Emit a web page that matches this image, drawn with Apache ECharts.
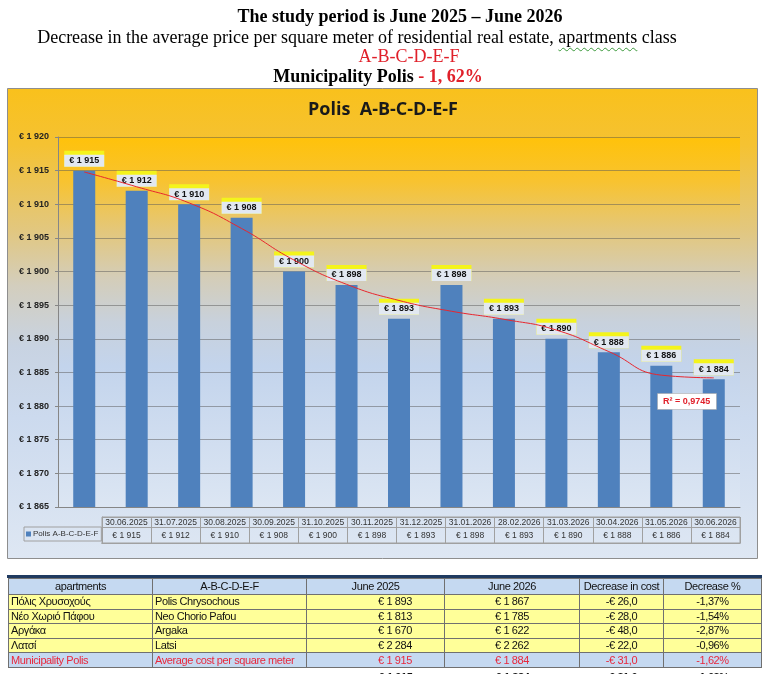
<!DOCTYPE html>
<html>
<head>
<meta charset="utf-8">
<script src="https://cdn.jsdelivr.net/npm/echarts@6/dist/echarts.min.js"></script>
<style>
  html,body{margin:0;padding:0;background:#fff;}
  #wrap{position:relative;width:766px;height:674px;overflow:hidden;}
  #chart{position:absolute;left:0;top:0;width:766px;height:674px;}
  .hl{position:absolute;white-space:nowrap;font-family:'Liberation Serif','Times New Roman',serif;font-size:18px;line-height:20px;transform:translateX(-50%);color:#000;}
  .b{font-weight:bold;}
  .red{color:#E0202A;}
  .wavy{text-decoration:underline wavy #3c9a3c;text-decoration-thickness:1px;text-underline-offset:4px;}
  #navy{position:absolute;left:7px;top:575px;width:755px;height:3px;background:#1F3A60;}
  #tbl{position:absolute;left:8px;top:578px;width:753px;border-collapse:collapse;table-layout:fixed;
       font-family:'Liberation Sans',Arial,sans-serif;font-size:11px;letter-spacing:-0.4px;color:#111;}
  #tbl td{border:1px solid #707070;padding:0 2px;white-space:nowrap;overflow:hidden;line-height:13px;}
  #tbl tr.hd td{background:#C5D9F1;text-align:center;height:15px;}
  #tbl tr.yl td{background:#FFFF99;height:13.6px;}
  #tbl tr.mu td{background:#C5D9F1;color:#E8283C;height:13.6px;}
  #tbl tr.tot td{border:none;font-weight:bold;background:#fff;height:14px;vertical-align:top;padding-top:3px;}
  #tbl td.r3{text-align:right;padding-right:32px;}
  #tbl td.r4{text-align:right;padding-right:50px;}
  #tbl td.c{text-align:center;}
</style>
</head>
<body>
<div id="wrap">
  <div id="chart"></div>
  <div class="hl b" style="left:400px;top:6px;">The study period is June 2025 – June 2026</div>
  <div class="hl" style="left:357px;top:27px;">Decrease in the average price per square meter of residential real estate, <span class="wavy">apartments</span> class</div>
  <div class="hl red" style="left:409px;top:46px;">A-B-C-D-E-F</div>
  <div class="hl b" style="left:378px;top:66px;">Municipality Polis <span class="red">- 1, 62%</span></div>
  <div id="navy"></div>
  <table id="tbl"></table>
</div>
<script>
// ---------- chart data ----------
const chartTitle = 'Polis  A-B-C-D-E-F';
const seriesName = 'Polis A-B-C-D-E-F';
const categories = ['30.06.2025','31.07.2025','30.08.2025','30.09.2025','31.10.2025','30.11.2025','31.12.2025','31.01.2026','28.02.2026','31.03.2026','30.04.2026','31.05.2026','30.06.2026'];
const prices = [1915,1912,1910,1908,1900,1898,1893,1898,1893,1890,1888,1886,1884];
// polynomial trend line
const trend = [1914.8,1912.6,1910.2,1906.4,1901.7,1898.1,1895.7,1894.1,1892.9,1891.3,1888.1,1884.6,1884.2];
const rSquaredText = 'R² = 0,9745';
const yMin = 1865, yMax = 1920, yStep = 5;

// ---------- table data ----------
const tableHeader = ['apartments','A-B-C-D-E-F','June 2025','June 2026','Decrease in cost','Decrease %'];
const placesGr = ['Πόλις Χρυσοχούς','Νέο Χωριό Πάφου','Αργάκα','Λατσί'];
const placesEn = ['Polis Chrysochous','Neo Chorio Pafou','Argaka','Latsi'];
const june2025 = [1893,1813,1670,2284];
const june2026 = [1867,1785,1622,2262];
const decCost = ['-€ 26,0','-€ 28,0','-€ 48,0','-€ 22,0'];
const decPct = ['-1,37%','-1,54%','-2,87%','-0,96%'];
const muniRow = ['Municipality Polis','Average cost per square meter',1915,1884,'-€ 31,0','-1,62%'];

function fmt(v){ const s = String(Math.round(v)); return s.length>3 ? s.slice(0,s.length-3)+' '+s.slice(-3) : s; }
function eur(v){ return '€ ' + fmt(v); }

// build table
(function(){
  const t = document.getElementById('tbl');
  const widths = [144,154,138,135,84,98];
  let h = '<colgroup>' + widths.map(w=>'<col style="width:'+w+'px">').join('') + '</colgroup>';
  h += '<tr class="hd">' + tableHeader.map(x=>'<td>'+x+'</td>').join('') + '</tr>';
  for (let i=0;i<placesGr.length;i++){
    h += '<tr class="yl"><td>'+placesGr[i]+'</td><td>'+placesEn[i]+'</td><td class="r3">'+eur(june2025[i])+'</td><td class="r4">'+eur(june2026[i])+'</td><td class="c">'+decCost[i]+'</td><td class="c">'+decPct[i]+'</td></tr>';
  }
  h += '<tr class="mu"><td>'+muniRow[0]+'</td><td>'+muniRow[1]+'</td><td class="r3">'+eur(muniRow[2])+'</td><td class="r4">'+eur(muniRow[3])+'</td><td class="c">'+muniRow[4]+'</td><td class="c">'+muniRow[5]+'</td></tr>';
  h += '<tr class="tot"><td></td><td></td><td class="r3">'+eur(muniRow[2])+'</td><td class="r4">'+eur(muniRow[3])+'</td><td class="c">'+muniRow[4]+'</td><td class="c">'+muniRow[5]+'</td></tr>';
  t.innerHTML = h;
})();

const chart = echarts.init(document.getElementById('chart'), null, {renderer:'canvas'});
const lin = (stops)=>({type:'linear',x:0,y:0,x2:0,y2:1,colorStops:stops.map(s=>({offset:s[0],color:s[1]}))});
const gridLine = '#A0A0A0';
const option = {
  animation:false,
  graphic:[{
    type:'rect', silent:true, z:-10,
    shape:{x:7.5,y:88.5,width:750,height:470},
    style:{fill:lin([[0,'#F9C11C'],[0.12,'#F5C232'],[0.3,'#E2C77E'],[0.42,'#D3CEBE'],[0.55,'#C8D3E2'],[0.7,'#CCDAEE'],[1,'#DEE7F3']]), stroke:'#8E8E8E', lineWidth:1}
  }],
  title:[
    {text:chartTitle, left:'center', top:101, padding:0,
     textStyle:{fontFamily:'Open Sans',fontSize:18,fontWeight:'bold',color:'#1a1a1a'}},
    {text:rSquaredText, left:657, top:393, padding:[4,6], backgroundColor:'#ffffff', borderColor:'#A0A0A0', borderWidth:0.5,
     textStyle:{fontFamily:'Liberation Sans',fontSize:9,fontWeight:'bold',color:'#E0202A'}}
  ],
  legend:{
    data:[seriesName], left:24, top:527, orient:'horizontal',
    icon:'rect', itemWidth:5, itemHeight:5, itemGap:0,
    padding:[3,3,3,2], borderColor:gridLine, borderWidth:1,
    textStyle:{fontFamily:'Liberation Sans',fontSize:8,color:'#333',padding:[0,0,0,-3]}
  },
  grid:[
    {left:58, top:137, width:682, height:370, show:true, borderWidth:0,
     backgroundColor:lin([[0,'#FFC20A'],[0.12,'#F8C330'],[0.25,'#E4C779'],[0.38,'#D4CDB8'],[0.5,'#C8D1DC'],[0.62,'#C3D4EC'],[1,'#DCE6F3']])},
    {left:102, top:517, width:638, height:26, show:true, borderColor:gridLine, borderWidth:1, backgroundColor:'rgba(0,0,0,0)'}
  ],
  xAxis:[
    {gridIndex:0, type:'category', data:categories, axisLabel:{show:false}, axisTick:{show:false},
     axisLine:{lineStyle:{color:'#868686'}}},
    {gridIndex:1, type:'category', position:'top', data:categories,
     axisLine:{show:true,lineStyle:{color:gridLine}}, axisTick:{show:false},
     axisLabel:{inside:true, margin:1, fontFamily:'Liberation Sans', fontSize:8.5, color:'#333', interval:0},
     splitLine:{show:true, lineStyle:{color:gridLine}}},
    {gridIndex:1, type:'category', position:'bottom', data:prices.map(eur),
     axisLine:{show:true,lineStyle:{color:gridLine}}, axisTick:{show:false},
     axisLabel:{inside:true, margin:3, fontFamily:'Liberation Sans', fontSize:8.5, color:'#333', interval:0}}
  ],
  yAxis:[
    {gridIndex:0, type:'value', min:yMin, max:yMax, interval:yStep,
     axisLabel:{formatter:v=>eur(v), fontFamily:'Liberation Sans', fontSize:9, fontWeight:'bold', color:'#222', margin:9},
     axisLine:{show:true, lineStyle:{color:'#868686'}}, axisTick:{show:true, length:3, lineStyle:{color:'#868686'}},
     splitLine:{show:true, lineStyle:{color:'rgba(90,90,90,0.5)'}}},
    {gridIndex:1, type:'value', min:0, max:26, interval:16, axisLabel:{show:false},
     axisLine:{show:true, lineStyle:{color:gridLine}}, axisTick:{show:false},
     splitLine:{show:true, lineStyle:{color:gridLine}}}
  ],
  series:[
    {name:seriesName, type:'bar', xAxisIndex:0, yAxisIndex:0, data:prices, barWidth:22, z:2,
     itemStyle:{color:'#4F81BD'},
     label:{show:true, position:'top', distance:4,
       formatter:p=>'{v|'+eur(p.value)+'}',
       backgroundColor:'#F4F41C', padding:[4,0,0,0],
       rich:{v:{fontFamily:'Liberation Sans', fontSize:9, fontWeight:'bold', color:'#111', align:'center',
                width:40, height:12, lineHeight:12, backgroundColor:'#E2E8F1'}}}},
    {name:'trend', type:'line', xAxisIndex:0, yAxisIndex:0, data:trend, smooth:0.5, symbol:'none', z:5,
     lineStyle:{color:'#E8262E', width:1}}
  ]
};
chart.setOption(option);
</script>
</body>
</html>
